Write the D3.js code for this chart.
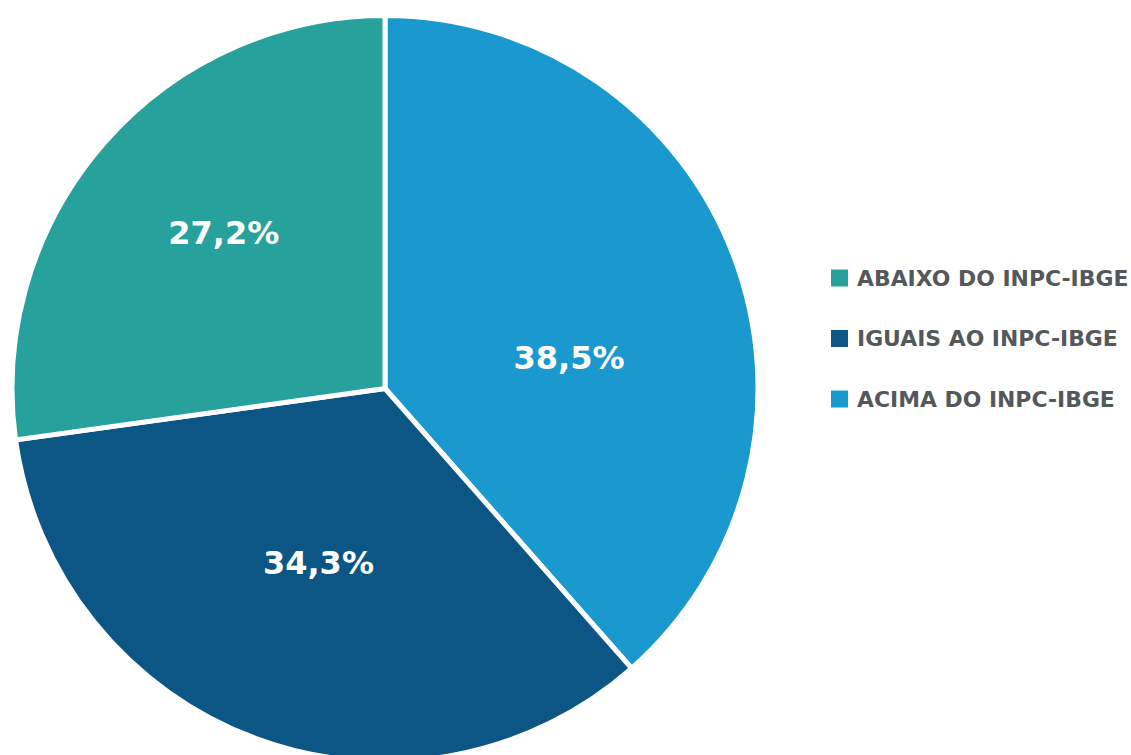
<!DOCTYPE html>
<html>
<head>
<meta charset="utf-8">
<script src="https://cdn.jsdelivr.net/npm/d3@7/dist/d3.min.js"></script>
<style>
  html, body { margin: 0; padding: 0; background: #ffffff; }
  svg { display: block; }
</style>
</head>
<body>
<svg id="chart" width="1131" height="755"></svg>
<script>
// Share of agreements relative to the INPC-IBGE
const categories = ["ACIMA DO INPC-IBGE", "IGUAIS AO INPC-IBGE", "ABAIXO DO INPC-IBGE"];
const values = [38.5, 34.3, 27.2];
const colors = ["#1a99cf", "#0b5685", "#27a19b"];
const legendOrder = ["ABAIXO DO INPC-IBGE", "IGUAIS AO INPC-IBGE", "ACIMA DO INPC-IBGE"];

const fmt = v => d3.format(".1f")(v).replace(".", ",") + "%";

const svg = d3.select("#chart");
const cx = 385, cy = 388.5, radius = 373;

const color = d3.scaleOrdinal().domain(categories).range(colors);

const pie = d3.pie().sort(null).value(d => d.value);
const data = categories.map((c, i) => ({ category: c, value: values[i] }));
const arcs = pie(data);

const arc = d3.arc().innerRadius(0).outerRadius(radius);

const g = svg.append("g").attr("transform", `translate(${cx},${cy})`);

g.selectAll("path.slice")
  .data(arcs)
  .join("path")
  .attr("class", "slice")
  .attr("d", arc)
  .attr("fill", d => color(d.data.category))
  .attr("stroke", "#ffffff")
  .attr("stroke-width", 5)
  .attr("stroke-linejoin", "miter");

// label placement: angle shift (radians) and radial fraction per slice
const labelPlace = {
  "ACIMA DO INPC-IBGE": { shift: 0.2, r: 0.5 },
  "IGUAIS AO INPC-IBGE": { shift: 0.01, r: 0.5 },
  "ABAIXO DO INPC-IBGE": { shift: 0.05, r: 0.6 }
};

g.selectAll("text.pct")
  .data(arcs)
  .join("text")
  .attr("class", "pct")
  .attr("transform", d => {
    const p = labelPlace[d.data.category];
    const a = (d.startAngle + d.endAngle) / 2 + p.shift;
    const rr = radius * p.r;
    return `translate(${rr * Math.sin(a)},${-rr * Math.cos(a)})`;
  })
  .attr("text-anchor", "middle")
  .attr("dy", "0.34em")
  .attr("fill", "#ffffff")
  .attr("font-family", "'DejaVu Sans', sans-serif")
  .attr("font-weight", "bold")
  .attr("font-size", 32)
  .text(d => fmt(d.data.value));

// legend
const legend = svg.append("g").attr("transform", "translate(831,278)");
const rowY = d3.scalePoint().domain(legendOrder).range([0, 121]);

const items = legend.selectAll("g.item")
  .data(legendOrder)
  .join("g")
  .attr("class", "item")
  .attr("transform", d => `translate(0,${rowY(d)})`);

items.append("rect")
  .attr("x", 0).attr("y", -8.5)
  .attr("width", 17).attr("height", 17)
  .attr("fill", d => color(d));

items.append("text")
  .attr("x", 26)
  .attr("dy", "0.36em")
  .attr("fill", "#54585a")
  .attr("font-family", "'DejaVu Sans', sans-serif")
  .attr("font-weight", "bold")
  .attr("font-size", 21.9)
  .text(d => d);
</script>
</body>
</html>
